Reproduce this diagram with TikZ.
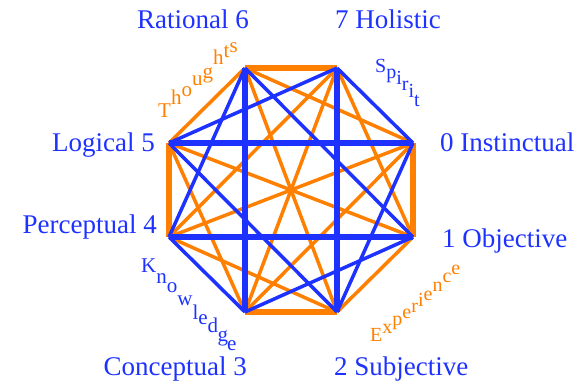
\documentclass[tikz,border=0pt]{standalone}
\usepackage{fontspec}
\setmainfont{Liberation Serif}
\usetikzlibrary{positioning}
\definecolor{myblue}{RGB}{30,50,255}
\definecolor{myorange}{RGB}{255,128,0}

\tikzset{
  blueline/.style={draw=myblue,line width=3.5pt},
  orangeline/.style={draw=myorange,line width=3.5pt},
  thickblue/.style={draw=myblue,line width=5.5pt},
  thickorange/.style={draw=myorange,line width=5.5pt},
  vlabel/.style={text=myblue,inner sep=0pt,font=\fontsize{27}{30}\selectfont},
  letter/.style={inner sep=0pt,anchor=base west,font=\fontsize{21}{23}\selectfont},
  smallletter/.style={letter,font=\fontsize{20}{22}\selectfont}
}

\begin{document}
\begin{tikzpicture}[x=1pt,y=-1pt]
  \useasboundingbox (0,0) rectangle (574,384);
  % corners of the octagon
  \coordinate (v0) at (413,143);
  \coordinate (v1) at (413,237);
  \coordinate (v2) at (337,312);
  \coordinate (v3) at (245,312);
  \coordinate (v4) at (169,237);
  \coordinate (v5) at (169,143);
  \coordinate (v6) at (245,68);
  \coordinate (v7) at (337,68);
  % orange chords
  \foreach \a/\b in {0/3,0/4,0/6,1/2,1/5,1/7,2/4,2/6,3/5,3/7,4/7,5/6}
    \draw[orangeline] (v\a) -- (v\b);
  \foreach \a/\b in {0/1,2/3,4/5,6/7}
    \draw[thickorange] (v\a) -- (v\b);
  % blue chords
  \foreach \a/\b in {0/2,0/7,1/3,1/6,2/5,3/4,4/6,5/7}
    \draw[blueline] (v\a) -- (v\b);
  \foreach \a/\b in {0/5,1/4,2/7,3/6}
    \draw[thickblue] (v\a) -- (v\b);
  % labels
  \node[vlabel,anchor=base] (rational) at (193,28) {Rational 6};
  \node[vlabel,anchor=base] (holistic) at (388,28) {7 Holistic};
  \node[vlabel,anchor=base east] (logical) at (155,151) {Logical 5};
  \node[vlabel,anchor=base west] (instinctual) at (440,151) {0 Instinctual};
  \node[vlabel,anchor=base east] (perceptual) at (157,233) {Perceptual 4};
  \node[vlabel,anchor=base west] (objective) at (442,247) {1 Objective};
  \node[vlabel,anchor=base east] (conceptual) at (247,375) {Conceptual 3};
  \node[vlabel,anchor=base west] (subjective) at (334,375) {2 Subjective};
  % stepped words
  \foreach \ch/\x/\y [count=\n] in {T/158/117,h/170.8/104,o/181.3/96,u/191.8/85,g/202.3/78,h/212.8/64,t/223.3/57,s/229.3/52}
    \node[letter,text=myorange] (thought\n) at (\x,\y) {\ch};
  \foreach \ch/\x/\y [count=\n] in {S/375/72,p/386.1/78,i/396.1/84,r/401.7/90,i/408.4/97,t/414/106}
    \node[smallletter,text=myblue] (spirit\n) at (\x,\y) {\ch};
  \foreach \ch/\x/\y [count=\n] in {K/141/272,n/156.2/283,o/166.7/292,w/177.2/305,l/192.4/319,e/198.2/324,d/207.5/332,g/217.5/341,e/227/350}
    \node[letter,text=myblue] (know\n) at (\x,\y) {\ch};
  \foreach \ch/\x/\y [count=\n] in {E/370/341,x/382.2/333,p/392.2/325,e/402.2/318,r/411.1/312,i/417.8/306,e/423.4/300,n/432.3/291,c/442.3/282,e/451.2/274}
    \node[smallletter,text=myorange] (exp\n) at (\x,\y) {\ch};
\end{tikzpicture}
\end{document}
